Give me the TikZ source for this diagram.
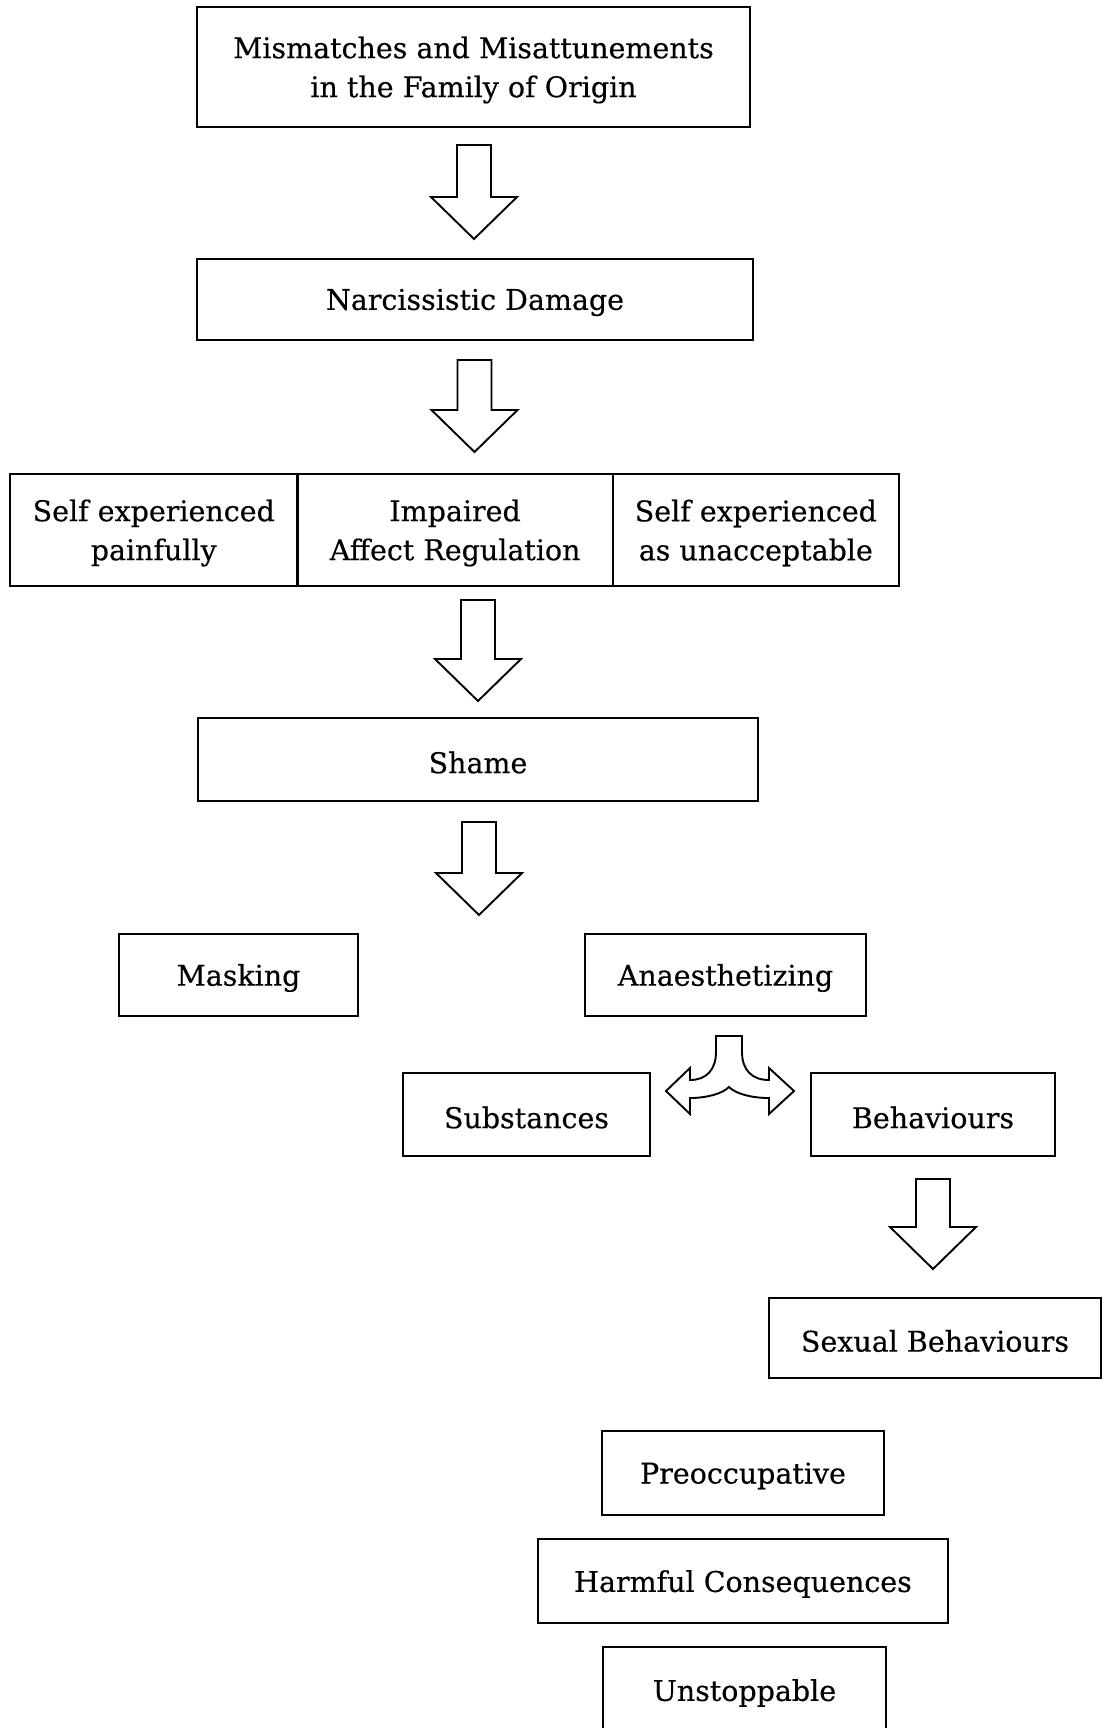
\documentclass[tikz,border=0pt]{standalone}
\usepackage{fontspec}
\setmainfont{DejaVu Serif}
\newfontfamily\dfont[FakeBold=0.4]{DejaVu Serif}
\newcommand\hdown[3]{%
  \draw[harrow] (#1-17,#2) -- (#1+17,#2) -- (#1+17,#3-42) -- (#1+43,#3-42) -- (#1,#3) -- (#1-43,#3-42) -- (#1-17,#3-42) -- cycle;}
% name, x, y, width, height, text
\newcommand\bx[6]{%
  \node[frame, minimum width=#4, minimum height=#5] (#1) at (#2,#3) {};
  \node[txt] (#1-t) at ([yshift=-3pt]#1.center) {#6};}
\begin{document}
\begin{tikzpicture}[x=1pt,y=-1pt,
  frame/.style={draw, line width=2.1pt, inner sep=0pt},
  txt/.style={inner sep=0pt, align=center, font=\dfont\fontsize{28.5}{39}\selectfont},
  harrow/.style={draw, line width=1.9pt, line join=miter}]
\useasboundingbox (0,0) rectangle (1103,1728);
\fill[white] (0,0) rectangle (1103,1728);
\bx{origin}{473.5}{67}{553}{120}{Mismatches and Misattunements\\in the Family of Origin}
\bx{damage}{475}{299.5}{556}{81}{Narcissistic Damage}
\bx{pain}{153.75}{530}{287.5}{112}{Self experienced\\painfully}
\bx{affect}{455.1}{530}{315.2}{112}{Impaired\\Affect Regulation}
\bx{unacc}{755.85}{530}{286.3}{112}{Self experienced\\as unacceptable}
\bx{shame}{478}{759.5}{560}{83}{Shame}
\bx{mask}{238.5}{975}{239}{82}{Masking}
\bx{anaes}{725.5}{975}{281}{82}{Anaesthetizing}
\bx{subst}{526.5}{1114.5}{247}{83}{Substances}
\bx{behav}{933}{1114.5}{244}{83}{Behaviours}
\bx{sexual}{935}{1338}{332}{80}{Sexual Behaviours}
\bx{preocc}{743}{1473}{282}{84}{Preoccupative}
\bx{harm}{743}{1581}{410}{84}{Harmful Consequences}
\bx{unstop}{744.5}{1690}{283}{86}{Unstoppable}
\hdown{474}{145}{239}
\hdown{474.5}{360}{452}
\hdown{478}{600}{701}
\hdown{479}{822}{915}
\hdown{933}{1179}{1269}
% split arrow
\draw[harrow] (716,1036) -- (742,1036) -- (742,1052)
  .. controls (742,1070) and (752,1080) .. (769,1080)
  -- (769,1068) -- (794,1091) -- (769,1114) -- (769,1098)
  .. controls (752,1098) and (736,1094) .. (729,1087)
  .. controls (722,1094) and (706,1098) .. (690,1098)
  -- (690,1114) -- (666,1091) -- (690,1068) -- (690,1080)
  .. controls (706,1080) and (716,1070) .. (716,1052) -- cycle;
\end{tikzpicture}
\end{document}
